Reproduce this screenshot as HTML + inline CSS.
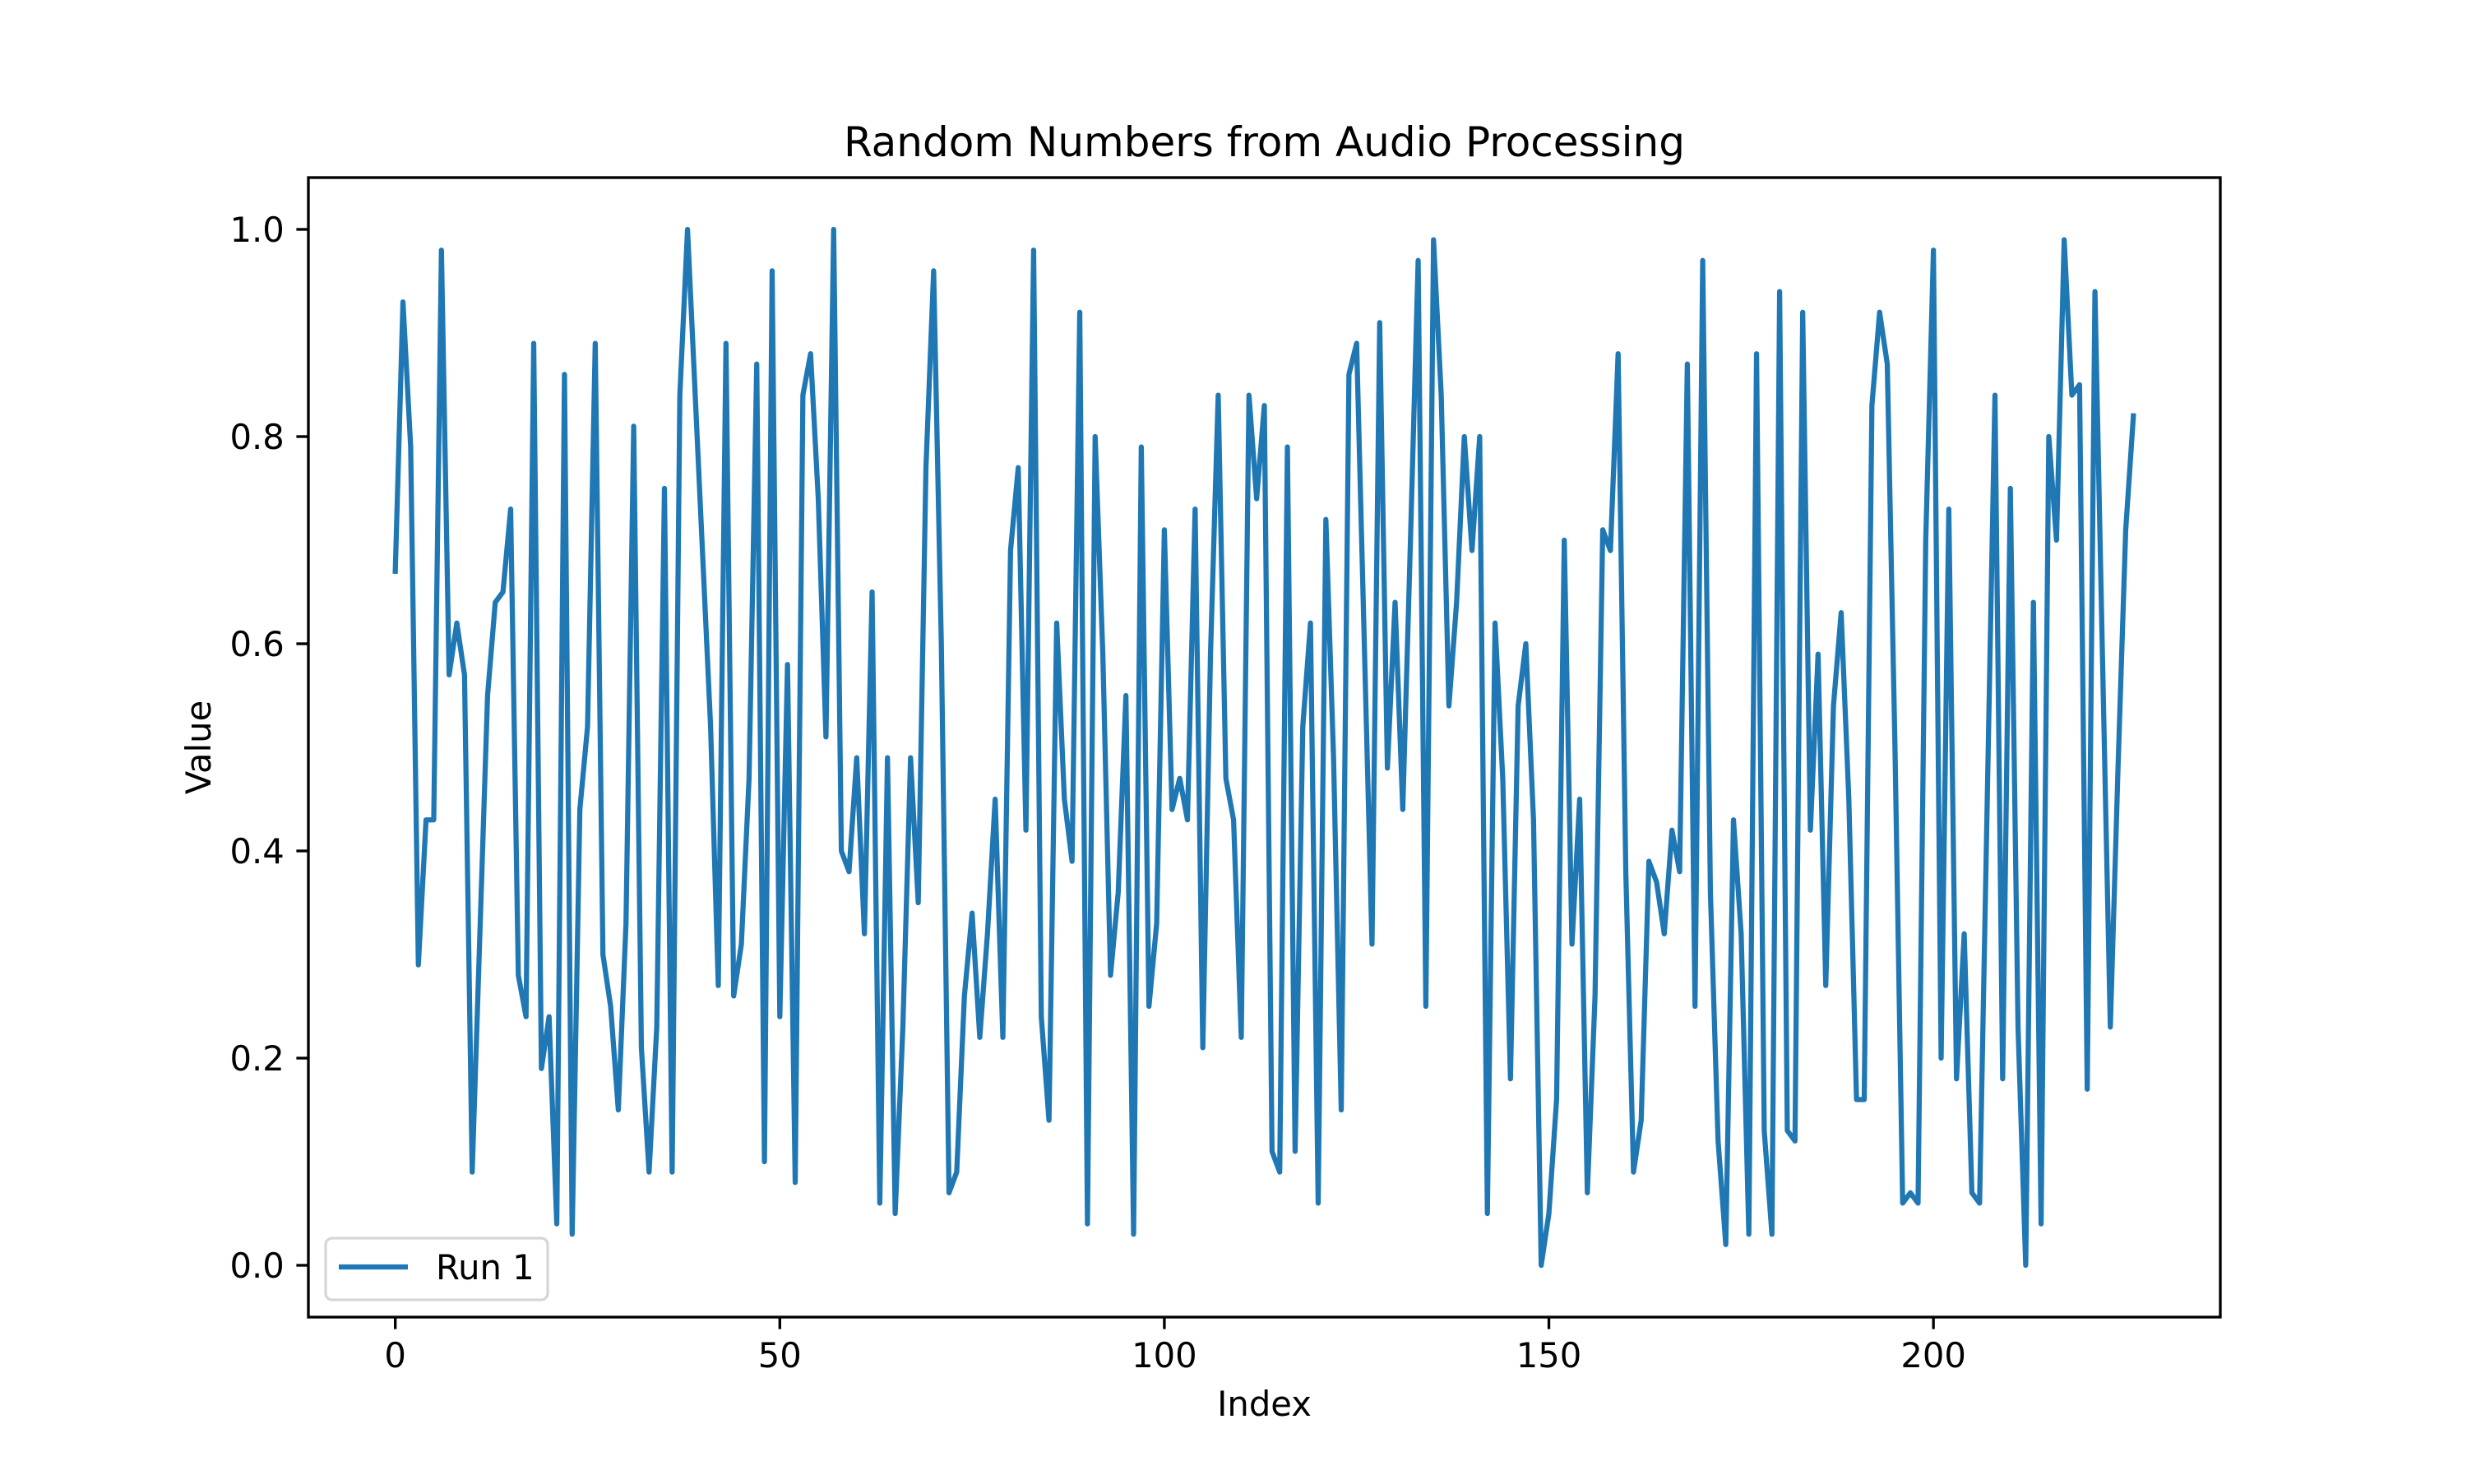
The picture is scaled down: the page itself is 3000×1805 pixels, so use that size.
<!DOCTYPE html>
<html><head><meta charset="utf-8"><style>
html,body{margin:0;padding:0;background:#fff;}
svg text{font-family:"DejaVu Sans","Liberation Sans",sans-serif;fill:#000;}
</style></head><body>
<svg id="chart" width="3000" height="1800" viewBox="0 0 3000 1800" xmlns="http://www.w3.org/2000/svg">
<rect x="0" y="0" width="3000" height="1800" fill="#fff"/>
<text x="1537.5" y="190" font-size="50" text-anchor="middle">Random Numbers from Audio Processing</text>
<g id="plot"></g>
<text x="1537.5" y="1722" font-size="41.7" text-anchor="middle">Index</text>
<text x="0" y="0" font-size="41.7" text-anchor="middle" transform="translate(256,909) rotate(-90)">Value</text>
<g>
<rect x="396" y="1506" width="270" height="75" rx="8" fill="#fff" fill-opacity="0.8" stroke="#d6d6d6" stroke-width="3.3"/>
<line x1="412" y1="1541" x2="496" y2="1541" stroke="#1f77b4" stroke-width="6.25"/>
<text x="530" y="1556" font-size="41.7">Run 1</text>
</g>
</svg>
<script>
const values = [0.67,0.93,0.79,0.29,0.43,0.43,0.98,0.57,0.62,0.57,0.09,0.32,0.55,0.64,0.65,0.73,0.28,0.24,0.89,0.19,0.24,0.04,0.86,0.03,0.44,0.52,0.89,0.30,0.25,0.15,0.33,0.81,0.21,0.09,0.23,0.75,0.09,0.84,1.0,0.84,0.68,0.52,0.27,0.89,0.26,0.31,0.47,0.87,0.10,0.96,0.24,0.58,0.08,0.84,0.88,0.74,0.51,1.0,0.40,0.38,0.49,0.32,0.65,0.06,0.49,0.05,0.23,0.49,0.35,0.77,0.96,0.60,0.07,0.09,0.26,0.34,0.22,0.32,0.45,0.22,0.69,0.77,0.42,0.98,0.24,0.14,0.62,0.45,0.39,0.92,0.04,0.80,0.59,0.28,0.36,0.55,0.03,0.79,0.25,0.33,0.71,0.44,0.47,0.43,0.73,0.21,0.59,0.84,0.47,0.43,0.22,0.84,0.74,0.83,0.11,0.09,0.79,0.11,0.52,0.62,0.06,0.72,0.49,0.15,0.86,0.89,0.60,0.31,0.91,0.48,0.64,0.44,0.70,0.97,0.25,0.99,0.84,0.54,0.64,0.80,0.69,0.80,0.05,0.62,0.47,0.18,0.54,0.60,0.43,0.0,0.05,0.16,0.70,0.31,0.45,0.07,0.26,0.71,0.69,0.88,0.38,0.09,0.14,0.39,0.37,0.32,0.42,0.38,0.87,0.25,0.97,0.36,0.12,0.02,0.43,0.32,0.03,0.88,0.13,0.03,0.94,0.13,0.12,0.92,0.42,0.59,0.27,0.54,0.63,0.45,0.16,0.16,0.83,0.92,0.87,0.50,0.06,0.07,0.06,0.70,0.98,0.20,0.73,0.18,0.32,0.07,0.06,0.45,0.84,0.18,0.75,0.23,0.0,0.64,0.04,0.80,0.70,0.99,0.84,0.85,0.17,0.94,0.58,0.23,0.48,0.71,0.82];
const xTicks = [0,50,100,150,200];
const yTicks = [0.0,0.2,0.4,0.6,0.8,1.0];
const yTickLabels = ["0.0","0.2","0.4","0.6","0.8","1.0"];

const L=375,R=2700,T=216,B=1602;
const n=values.length;
const xmin=-(n-1)*0.05, xmax=(n-1)*1.05;
const ymin=-0.05, ymax=1.05;
const sx=v=>L+(v-xmin)/(xmax-xmin)*(R-L);
const sy=v=>B-(v-ymin)/(ymax-ymin)*(B-T);
const NS="http://www.w3.org/2000/svg";
const plot=document.getElementById('plot');
function mk(tag,attrs,parent){const e=document.createElementNS(NS,tag);for(const k in attrs)e.setAttribute(k,attrs[k]);(parent||plot).appendChild(e);return e;}

const pts=values.map((v,i)=>sx(i).toFixed(2)+','+sy(v).toFixed(2)).join(' ');
const line=mk('polyline',{points:pts,fill:'none',stroke:'#1f77b4','stroke-width':6.25,'stroke-linejoin':'round','stroke-linecap':'square'});



xTicks.forEach(t=>{
  const x=sx(t);
  const tk=mk('line',{x1:x,y1:B,x2:x,y2:B+14.6,stroke:'#000','stroke-width':3.33});
  
  
  const tx=mk('text',{x:x,y:1663,'font-size':41.7,'text-anchor':'middle'});
  tx.textContent=String(t);
  
  
});
yTicks.forEach((t,i)=>{
  const y=sy(t);
  const tk=mk('line',{x1:L-14.6,y1:y,x2:L,y2:y,stroke:'#000','stroke-width':3.33});
  
  
  const tx=mk('text',{x:L-29.2,y:y+15,'font-size':41.7,'text-anchor':'end'});
  tx.textContent=yTickLabels[i];
  
  
});
const frame=mk('rect',{x:L,y:T,width:R-L,height:B-T,fill:'none',stroke:'#000','stroke-width':3.33});


</script>
</body></html>
